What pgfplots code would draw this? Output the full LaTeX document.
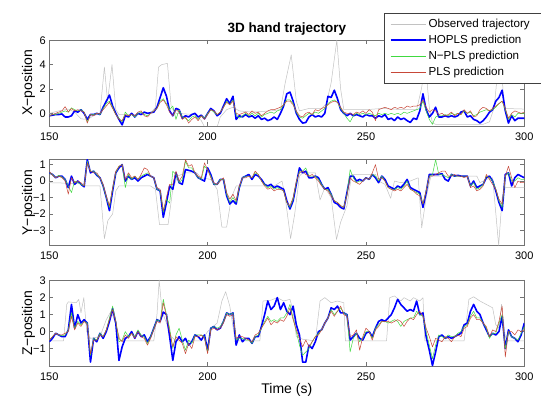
\documentclass[border=0pt]{standalone}
\usepackage{pgfplots}
\pgfplotsset{compat=1.18}
\usepackage{pgfplotstable}
\usepackage{fontspec}
\setmainfont{Liberation Sans}
\definecolor{obs}{rgb}{0.76,0.76,0.76}
\definecolor{hop}{rgb}{0,0,1}
\definecolor{npl}{rgb}{0.25,0.85,0.25}
\definecolor{pls}{rgb}{0.78,0.28,0.22}
\definecolor{axc}{rgb}{0.45,0.45,0.45}

\pgfplotstableread{
t h n p
150 -0.2 -0.2 -0.2
151 -0.15 -0.1 -0.1
152 -0.1 -0.1 0.0
153 -0.1 0.0 0.1
154 -0.05 0.1 0.2
155 -0.3 0.2 0.55
156 -0.3 0.1 0.1
157 -0.2 0.45 0.4
158 0.2 0.3 0.2
159 0.1 0.2 0.3
160 0.3 0.3 0.2
161 0.0 0.1 0.1
162 -0.5 -0.7 -0.8
163 -0.1 -0.1 -0.1
164 -0.1 -0.1 -0.2
165 0.0 0.0 0.0
166 -0.1 -0.1 0.0
167 0.5 0.4 0.3
168 1.0 0.8 0.6
169 1.5 1.0 0.9
170 0.6 0.5 0.4
171 0.0 -0.1 -0.1
172 -0.5 -0.4 -0.5
173 -0.95 -0.7 -0.6
174 -0.2 0.1 -0.1
175 -0.3 -0.2 -0.2
176 0.0 -0.1 -0.1
177 -0.3 -0.3 -0.2
178 0.0 0.0 0.1
179 -0.1 0.1 0.2
180 0.1 -0.1 -0.2
181 0.0 -0.2 -0.3
182 0.05 0.0 0.0
183 0.1 0.2 0.2
184 0.5 0.4 0.4
185 1.3 1.0 0.9
186 2.1 1.2 1.1
187 1.4 0.8 0.7
188 0.2 0.3 0.1
189 -0.2 0.6 -0.2
190 0.4 -0.5 0.3
191 0.3 0.3 0.1
192 -0.4 -0.3 -0.5
193 -0.2 -0.4 -0.3
194 -0.3 -0.6 -0.8
195 -0.1 -0.3 -0.5
196 0.0 -0.2 -0.3
197 -0.3 -0.5 -0.6
198 -0.15 -0.2 -0.2
199 -0.45 -0.4 -0.5
200 0.0 0.0 -0.1
201 0.4 0.3 0.3
202 0.2 0.1 0.2
203 -0.2 -0.1 -0.1
204 0.0 0.1 0.1
205 0.6 0.5 0.5
206 1.2 1.0 0.9
207 0.8 0.7 0.7
208 1.4 1.1 1.0
209 -0.5 -0.1 0.0
210 -0.2 -0.4 -0.1
211 -0.3 -0.2 0.0
212 -0.1 0.0 0.1
213 -0.3 -0.2 -0.1
214 -0.2 0.0 0.2
215 -0.4 -0.2 0.0
216 -0.2 0.0 0.1
217 -0.5 -0.3 -0.2
218 -0.4 -0.1 0.0
219 -0.6 0.0 0.2
220 -0.5 0.1 0.3
221 -0.3 0.0 0.3
222 -0.5 0.2 0.4
223 0.0 0.3 0.5
224 0.6 0.7 0.7
225 1.6 1.1 1.0
226 1.75 1.1 1.0
227 1.0 0.8 0.7
228 0.0 0.1 0.2
229 -0.5 -0.3 -0.2
230 -0.8 -0.4 -0.3
231 -0.75 -0.2 0.0
232 -0.3 0.0 0.1
233 -0.1 -0.1 -0.1
234 -0.3 0.1 0.3
235 -0.2 0.0 0.2
236 -0.3 0.2 0.4
237 0.0 0.4 0.5
238 1.4 0.8 0.7
239 1.3 1.0 0.9
240 1.9 1.1 1.0
241 1.2 0.9 0.9
242 0.3 0.4 0.5
243 0.0 0.0 0.1
244 -0.2 -0.4 0.0
245 0.0 -0.7 0.0
246 -0.2 -0.2 -0.1
247 -0.1 0.0 0.1
248 -0.2 -0.1 0.0
249 -0.3 0.0 0.2
250 -0.1 -0.1 0.0
251 -0.2 0.0 0.3
252 -0.2 -0.1 0.1
253 -0.4 -0.2 -0.6
254 -0.2 0.0 0.3
255 -0.3 -0.1 0.4
256 -0.1 0.0 0.5
257 -0.5 -0.1 0.4
258 -0.4 0.0 0.3
259 -0.6 -0.1 0.5
260 -0.3 0.0 0.4
261 -0.5 -0.1 0.5
262 -0.4 0.1 0.4
263 -0.6 0.0 0.6
264 -0.75 0.1 0.5
265 -0.4 0.2 0.6
266 -0.5 0.3 0.6
267 0.2 0.4 0.7
268 1.6 1.0 1.1
269 0.3 0.2 0.5
270 -0.3 -0.5 0.1
271 0.0 -0.9 0.3
272 0.5 -0.3 0.2
273 -0.3 -0.2 -0.1
274 -0.3 -0.2 0.0
275 -0.2 -0.1 -0.2
276 -0.3 -0.2 -0.1
277 -0.2 0.0 0.1
278 -0.3 -0.1 -0.2
279 -0.2 0.0 0.0
280 0.1 -0.1 -0.1
281 0.2 0.2 0.3
282 -0.3 0.0 0.0
283 -0.2 0.1 0.2
284 -0.5 -0.2 -0.3
285 -0.6 -0.1 -0.2
286 -0.8 0.1 0.3
287 -0.6 0.2 0.5
288 -0.3 0.3 0.4
289 0.1 0.2 0.2
290 0.3 0.3 0.4
291 1.0 0.5 0.6
292 1.3 0.8 0.8
293 1.9 1.0 1.0
294 0.2 0.3 0.4
295 -0.8 -0.5 -0.4
296 -0.2 -0.1 0.0
297 -0.6 -0.3 0.2
298 -0.4 0.0 0.1
299 -0.4 0.0 0.0
300 -0.4 0.0 0.1
}\tabX

\pgfplotstableread{
t h n p
150 0.5 0.5 0.6
151 0.4 0.4 0.35
152 0.2 0.2 0.2
153 0.3 0.35 0.3
154 0.3 0.25 0.2
155 0.1 0.1 0.0
156 -0.4 -0.3 -0.8
157 0.3 -0.7 0.2
158 -0.2 0.0 -0.1
159 0.0 -0.1 0.0
160 -0.2 -0.2 -0.1
161 -0.35 -0.3 -0.3
162 1.3 1.2 1.1
163 0.5 0.6 0.6
164 0.6 0.6 0.5
165 0.35 0.4 0.5
166 0.2 0.2 0.2
167 -0.3 -0.3 -0.2
168 -1.0 -1.0 -0.9
169 -1.8 -1.6 -1.5
170 -0.6 -0.5 -0.4
171 0.5 0.5 0.6
172 0.8 0.9 0.9
173 1.0 1.0 1.0
174 0.0 -0.4 0.1
175 0.3 0.4 0.5
176 0.1 0.1 0.2
177 0.2 0.3 0.3
178 0.0 0.1 0.1
179 0.2 0.3 0.4
180 0.3 0.4 0.8
181 0.4 0.5 0.7
182 0.3 0.3 0.3
183 0.2 0.2 0.2
184 -0.5 -0.5 -0.4
185 -0.6 -0.6 -0.5
186 -2.2 -1.9 -1.8
187 -1.3 -1.1 -1.0
188 -0.3 -1.35 -0.2
189 -0.5 0.6 -0.2
190 0.5 0.4 0.6
191 -0.1 -0.1 0.0
192 -0.2 0.1 0.3
193 0.7 1.2 1.3
194 0.65 0.8 0.9
195 0.6 0.8 1.0
196 0.5 0.5 0.5
197 0.2 0.2 0.3
198 0.1 0.1 0.2
199 0.0 0.9 1.1
200 0.8 0.7 0.7
201 0.4 0.3 0.2
202 -0.2 -0.2 -0.1
203 -0.2 -0.2 -0.2
204 0.1 0.1 0.0
205 0.1 0.1 0.2
206 -0.9 -0.8 -0.7
207 -1.4 -1.3 -1.1
208 -1.2 -1.0 -0.8
209 -1.4 -1.3 -1.2
210 -0.4 -0.4 -0.3
211 0.2 0.2 0.2
212 0.3 0.3 0.2
213 0.4 0.3 0.3
214 0.1 0.2 0.2
215 0.4 0.5 0.6
216 0.3 0.4 0.4
217 0.1 0.0 0.0
218 -0.2 -0.2 -0.3
219 -0.3 -0.4 -0.5
220 -0.2 -0.3 -0.4
221 -0.4 -0.5 -0.6
222 -0.3 -0.4 -0.5
223 -0.4 -0.5 -0.5
224 -0.5 -0.6 -0.6
225 -1.2 -1.3 -1.3
226 -1.7 -1.6 -1.5
227 -1.2 -1.1 -1.0
228 -0.2 -0.1 0.0
229 0.8 0.6 0.5
230 0.5 0.6 0.6
231 0.6 0.8 0.4
232 0.2 0.3 0.3
233 0.2 0.3 0.4
234 0.3 0.3 0.2
235 0.2 0.1 0.0
236 -0.2 -0.2 -0.3
237 -0.5 -0.5 -0.5
238 -0.4 -0.5 -0.6
239 -0.8 -0.8 -0.9
240 -1.3 -1.2 -1.2
241 -1.4 -1.3 -1.3
242 -1.6 -1.5 -1.5
243 -1.7 -1.6 -1.6
244 -0.7 -0.8 -0.9
245 0.3 0.7 0.2
246 0.3 0.2 0.0
247 0.0 -0.1 -0.1
248 0.1 0.0 -0.2
249 0.0 0.0 0.0
250 0.2 0.2 0.2
251 0.1 0.1 0.1
252 0.4 0.4 0.5
253 0.2 0.3 1.0
254 -0.1 0.0 0.1
255 0.3 0.3 0.2
256 0.1 0.0 0.0
257 -0.3 -0.4 -0.4
258 -0.4 -0.5 -0.5
259 -0.5 -0.5 -0.6
260 -0.3 -0.4 -0.5
261 -0.4 -0.5 -0.6
262 -0.2 -0.3 -0.4
263 0.1 0.0 -0.2
264 -0.4 -0.5 -0.5
265 -0.5 -0.6 -0.6
266 -0.6 -0.7 -0.8
267 -0.7 -0.8 -0.9
268 -1.6 -1.4 -1.4
269 -0.7 -0.6 -0.6
270 0.4 0.3 0.3
271 0.4 0.4 0.3
272 0.4 1.3 0.4
273 0.4 0.4 0.5
274 0.45 0.4 0.6
275 0.1 0.3 0.6
276 0.0 0.2 0.3
277 0.4 0.4 0.3
278 0.3 0.3 0.4
279 0.35 0.3 0.3
280 0.3 0.3 0.3
281 0.3 0.3 0.2
282 0.3 0.3 0.3
283 -0.3 -0.3 -0.4
284 0.0 -0.1 -0.3
285 -0.4 -0.5 -0.6
286 -0.3 -0.4 -0.5
287 -0.2 -0.2 -0.3
288 0.2 0.3 0.4
289 0.3 0.2 0.1
290 0.0 0.0 -0.2
291 -0.6 -0.5 -0.5
292 -1.3 -1.2 -1.1
293 -1.8 -1.6 -1.4
294 0.4 0.3 0.3
295 0.5 0.5 0.9
296 -0.3 0.0 0.2
297 0.2 0.0 -0.4
298 0.4 0.2 0.0
299 0.3 0.1 -0.1
300 0.2 0.1 -0.1
}\tabY

\pgfplotstableread{
t h n p
150 -0.6 -0.5 -0.5
151 -0.4 -0.3 -0.3
152 -0.1 -0.1 -0.1
153 -0.2 -0.2 -0.2
154 -0.3 -0.25 -0.2
155 -0.3 -0.2 -0.1
156 0.1 0.1 0.0
157 1.6 1.1 0.9
158 0.2 0.2 0.1
159 1.0 0.6 0.5
160 0.5 0.4 0.3
161 0.7 0.6 0.6
162 0.5 0.5 0.4
163 -1.8 -1.4 -1.3
164 -0.4 -0.4 -0.5
165 -0.6 -0.5 -0.5
166 -0.1 -0.1 -0.2
167 -0.4 -0.3 -0.3
168 0.0 0.1 0.1
169 0.6 0.8 0.7
170 1.35 1.5 1.3
171 0.5 0.6 0.6
172 -1.7 -0.6 -0.4
173 -0.9 -0.5 -0.6
174 -0.4 0.0 -0.2
175 -0.3 -0.3 -0.4
176 0.0 -0.1 -0.1
177 -0.4 -0.3 -0.4
178 0.0 0.1 0.0
179 -0.3 -0.2 -0.3
180 -0.2 -0.3 -0.4
181 -0.6 -0.7 -0.8
182 -0.3 -0.3 -0.4
183 0.2 0.2 0.1
184 0.7 0.7 0.6
185 0.6 0.6 0.5
186 1.15 1.9 1.7
187 1.0 1.0 0.9
188 -0.3 0.2 0.0
189 -1.7 -1.0 -0.9
190 -0.6 -0.2 -0.3
191 -0.3 0.2 -0.5
192 -0.6 -0.5 -0.7
193 -0.4 -1.1 -1.3
194 -0.8 -0.5 -0.7
195 -0.6 -0.7 -1.0
196 -0.2 -0.2 -0.3
197 -0.3 -0.2 -0.3
198 -0.5 -0.2 -0.2
199 -0.2 -0.3 -0.4
200 -1.1 -1.2 -1.3
201 0.2 0.2 0.1
202 0.3 0.3 0.2
203 0.1 0.2 0.1
204 0.2 0.3 0.2
205 0.6 0.6 0.5
206 1.1 1.1 1.0
207 1.0 1.0 0.9
208 1.1 1.1 1.0
209 -0.8 -0.5 -0.4
210 -0.2 -0.4 -0.3
211 -0.6 -0.4 -0.3
212 -0.4 -0.5 -0.4
213 -0.4 -0.5 -0.5
214 -0.7 -0.7 -0.6
215 -0.3 -0.3 -0.2
216 -0.3 -0.2 -0.1
217 0.3 0.2 0.2
218 1.0 0.6 0.5
219 1.8 0.9 0.8
220 1.3 0.6 0.4
221 1.5 0.7 0.6
222 2.0 0.6 0.5
223 1.3 0.8 0.7
224 1.7 0.8 0.6
225 1.2 1.1 0.9
226 1.0 1.6 1.4
227 1.5 0.8 0.7
228 0.4 0.0 0.1
229 -0.2 -0.8 -0.4
230 -1.8 -1.4 -0.9
231 -1.8 -1.2 -0.5
232 -0.8 -1.0 -0.9
233 -1.0 -0.6 -0.6
234 -0.6 -0.3 -0.3
235 0.0 -0.1 -0.2
236 0.1 0.1 0.1
237 0.5 0.5 0.5
238 0.8 0.8 0.8
239 1.4 1.3 1.2
240 1.3 1.0 0.9
241 1.5 1.2 1.2
242 1.1 1.4 1.5
243 1.1 1.1 1.0
244 1.0 1.0 0.9
245 -0.5 -1.2 -0.3
246 -0.3 -0.4 -0.2
247 -0.1 -0.1 0.1
248 -0.4 -0.6 -1.1
249 -0.5 -0.4 -0.3
250 -0.1 0.0 0.2
251 0.0 0.0 0.0
252 -0.3 -0.4 -0.5
253 0.2 0.2 0.1
254 0.6 0.4 0.3
255 0.7 0.6 0.6
256 0.6 0.6 0.6
257 0.8 0.5 0.6
258 1.0 0.6 0.5
259 1.4 0.7 0.6
260 1.9 0.6 0.7
261 1.6 0.3 0.6
262 1.4 0.6 0.3
263 1.2 0.7 0.6
264 1.3 0.8 0.8
265 1.2 0.8 0.7
266 1.8 1.2 1.0
267 1.0 1.0 1.2
268 1.1 0.9 0.9
269 -0.3 0.0 0.2
270 -1.1 -0.8 -0.3
271 -2.0 -1.6 -0.9
272 -1.2 -0.8 -0.4
273 -0.3 -0.2 -0.5
274 -0.2 -0.3 -0.6
275 -0.4 -0.4 -0.3
276 -0.3 -0.2 -0.4
277 -0.4 -0.3 -0.6
278 -0.3 -0.3 -0.3
279 -0.2 -0.1 -0.2
280 -0.1 0.0 -0.3
281 0.4 0.3 0.2
282 0.5 0.4 0.3
283 1.2 0.9 0.8
284 1.6 1.2 1.0
285 1.2 0.8 0.7
286 1.0 0.8 0.7
287 0.5 0.5 0.5
288 0.1 0.2 0.3
289 -0.3 -0.4 -0.3
290 -0.1 -0.1 0.1
291 -0.2 -0.1 0.0
292 0.0 0.5 0.6
293 0.9 1.0 1.5
294 -1.0 -1.0 -1.5
295 0.1 0.0 0.0
296 -0.3 -0.3 0.0
297 -0.4 -0.4 -0.2
298 -0.6 -0.5 0.1
299 -0.2 -0.1 0.0
300 0.5 0.3 0.1
}\tabZ

\pgfplotsset{
  myax/.style={
    scale only axis, width=475pt, height=86pt,
    anchor=south west,
    xmin=150, xmax=300, xtick={150,200,250,300},
    tick align=inside, major tick length=4pt,
    axis line style={axc, line width=0.5pt},
    tick style={axc, line width=0.5pt},
    /pgf/number format/assume math mode=true,
    ticklabel style={font=\fontsize{11}{12}\selectfont},
    xticklabel style={yshift=-3pt},
    label style={font=\fontsize{14}{16}\selectfont},
    ylabel style={at={(axis description cs:-0.044,0.5)}, anchor=center},
  },
  obsst/.style={obs, line width=0.5pt, line join=round},
  hopst/.style={hop, line width=1.6pt, line join=round},
  nplst/.style={npl, line width=0.5pt, line join=round},
  plsst/.style={pls, line width=0.5pt, line join=round},
}

\begin{document}
\begin{tikzpicture}
\path[use as bounding box] (0pt,0pt) rectangle (541pt,397pt);

% ---------- X ----------
\begin{axis}[myax, at={(49.3pt,271pt)},
  ymin=-1.04, ymax=6.02, ytick={0,2,4,6},
  ylabel={X−position},
  title={3D hand trajectory},
  title style={font=\bfseries\fontsize{13.5}{15}\selectfont, at={(0.5,1)}, anchor=south, yshift=-5pt},
  legend style={at={(0.7046,1.314)}, anchor=north west, draw=black!75, fill=white,
    line width=0.5pt, font=\fontsize{11.6}{12}\selectfont,
    inner xsep=5.5pt, inner ysep=3pt, row sep=0pt,
    nodes={inner sep=2.25pt, text height=9.5pt, text depth=2pt}},
  legend cell align=left,
  legend image code/.code={\draw[#1] (2pt,0pt) -- (37pt,0pt);},
]
\addplot[obsst] coordinates {
(150,0.0) (153,0.2) (156,0.35) (158,0.1) (160,-0.45) (162,-0.5) (164,-0.2) (166,0.0)
(167.4,3.8) (168.4,1.0) (169.8,4.0) (171,0.3) (172,-0.1) (178,-0.1) (182,0.0) (183.5,0.5)
(184.5,3.8) (185.5,4.0) (187.3,4.1) (188.5,0.5) (190,0.0) (196,-0.1) (198,-0.6) (199,-1.1)
(203,-1.1) (204,-0.3) (206,0.3) (208,0.5) (210,0.2) (214,0.1) (220,0.2) (223,0.3)
(224.5,2.5) (226.4,4.8) (228,1.0) (229,0.2) (232,0.4) (236,0.4) (237.5,0.8) (239,2.5)
(240.8,6.0) (242,2.0) (243,0.3) (246,0.3) (250,0.3) (255,0.4) (262,0.3) (266,0.3)
(267.5,2.0) (268.8,4.0) (270,0.5) (271,-0.8) (272,-0.9) (282,-0.9) (287,-0.9) (289,-0.7)
(290.5,0.5) (291.8,4.0) (292.8,4.0) (293.6,0.4) (300,0.35)};
\addplot[hopst] table[x=t,y=h]{\tabX};
\addplot[nplst] table[x=t,y=n]{\tabX};
\addplot[plsst] table[x=t,y=p]{\tabX};
\addlegendentry{Observed trajectory\rule{25pt}{0pt}}
\addlegendentry{HOPLS prediction}
\addlegendentry{N−PLS prediction}
\addlegendentry{PLS prediction}
\end{axis}

% ---------- Y ----------
\begin{axis}[myax, at={(49.3pt,151.5pt)},
  ymin=-3.92, ymax=1.31, ytick={-3,-2,-1,0,1},
  yticklabels={−3,−2,−1,0,1},
  ylabel={Y−position},
]
\addplot[obsst] coordinates {
(150,-0.1) (160,-0.15) (161,-0.3) (166,-0.3) (167.4,-3.5) (168.5,-2.4) (170,-2.0) (171,-0.6)
(172,-0.3) (182,-0.3) (183.5,-0.5) (184.8,-2.65) (187.5,-2.65) (189,-0.5) (190.5,0.3) (193,0.5)
(196.5,0.5) (198,0.2) (201,0.1) (203,-0.5) (204.5,-2.8) (206,-2.8) (207.5,-1.0) (209,-0.3)
(221,-0.3) (223.5,0.0) (224.5,-1.0) (226.2,-3.5) (227.5,-2.0) (229,0.3) (230,0.5) (234,0.5)
(235.5,-1.15) (237,-0.4) (239,-1.0) (240.7,-3.55) (242,-2.5) (244,-1.5) (245.5,0.4) (253,0.4)
(254,0.0) (256,-0.2) (257.8,-1.05) (259,0.0) (261,-0.1) (264,0.0) (266.5,0.2) (267.6,-2.85)
(269,-1.0) (270.5,0.3) (285,0.3) (286,-0.1) (288,0.1) (290,0.2) (291.9,-3.9) (293,-1.0)
(294,-0.4) (300,-0.4)};
\addplot[hopst] table[x=t,y=h]{\tabY};
\addplot[nplst] table[x=t,y=n]{\tabY};
\addplot[plsst] table[x=t,y=p]{\tabY};
\end{axis}

% ---------- Z ----------
\begin{axis}[myax, at={(49.3pt,31pt)},
  ymin=-2.03, ymax=3.04, ytick={-1,0,1,2,3},
  yticklabels={−1,0,1,2,3},
  ylabel={Z−position},
  xlabel={Time (s)},
  xlabel style={at={(axis description cs:0.5,-0.275)}, anchor=center},
]
\addplot[obsst] coordinates {
(150,-0.55) (154.5,-0.55) (155.5,1.6) (156,1.75) (158.5,1.7) (159.3,1.9) (160,1.1) (160.9,2.0)
(161.8,0.0) (163,-0.4) (166,-0.3) (168,0.7) (169.5,1.2) (170.5,0.7) (172.5,-0.55) (183,-0.55)
(184,1.0) (184.7,3.04) (185.6,1.2) (187,0.5) (188.5,-0.3) (190,-0.55) (198,-0.55) (200,0.0)
(203,0.5) (204.5,1.8) (205.7,2.35) (207,1.5) (208.5,-0.3) (210,-0.55) (216.5,-0.55) (217.5,1.8)
(220,1.85) (222,2.0) (224,1.8) (226,1.9) (227,1.2) (228,-0.3) (230,-0.45) (234,-0.55)
(235.5,1.8) (237,2.0) (239,1.7) (241,1.8) (243,1.7) (243.5,-0.55) (256.5,-0.55) (257.5,2.0)
(259,2.1) (261,1.8) (262,2.0) (264,1.8) (265,2.0) (267,1.8) (268,2.0) (268.6,-0.55)
(281,-0.55) (282.5,1.9) (284,2.05) (286,1.8) (288,1.6) (290,1.4) (291,0.4) (292,0.2)
(292.8,1.6) (294,-0.3) (295,-0.55) (300,-0.55)};
\addplot[hopst] table[x=t,y=h]{\tabZ};
\addplot[nplst] table[x=t,y=n]{\tabZ};
\addplot[plsst] table[x=t,y=p]{\tabZ};
\end{axis}
\end{tikzpicture}
\end{document}
